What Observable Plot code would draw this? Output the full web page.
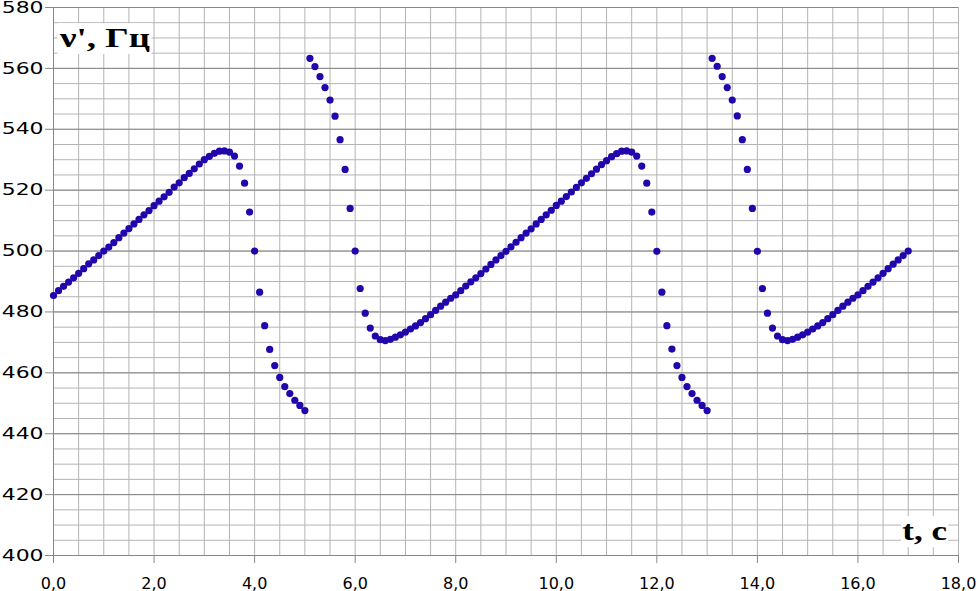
<!DOCTYPE html>
<html>
<head>
<meta charset="utf-8">
<script src="https://cdn.jsdelivr.net/npm/d3@7"></script>
<script src="https://cdn.jsdelivr.net/npm/@observablehq/plot@0.6"></script>
<style>
  html, body { margin: 0; padding: 0; background: #fff; }
  #chart svg { display: block; }
  g[aria-label="x-axis tick"], g[aria-label="y-axis tick"], .tick line { stroke: #868686; }
</style>
</head>
<body>
<div id="chart"></div>
<script>
// time, s
const t = [
  0.0, 0.1, 0.2, 0.3, 0.4, 0.5, 0.6, 0.7, 0.8, 0.9,
  1.0, 1.1, 1.2, 1.3, 1.4, 1.5, 1.6, 1.7, 1.8, 1.9,
  2.0, 2.1, 2.2, 2.3, 2.4, 2.5, 2.6, 2.7, 2.8, 2.9,
  3.0, 3.1, 3.2, 3.3, 3.4, 3.5, 3.6, 3.7, 3.8, 3.9,
  4.0, 4.1, 4.2, 4.3, 4.4, 4.5, 4.6, 4.7, 4.8, 4.9,
  5.0, 5.1, 5.2, 5.3, 5.4, 5.5, 5.6, 5.7, 5.8, 5.9,
  6.0, 6.1, 6.2, 6.3, 6.4, 6.5, 6.6, 6.7, 6.8, 6.9,
  7.0, 7.1, 7.2, 7.3, 7.4, 7.5, 7.6, 7.7, 7.8, 7.9,
  8.0, 8.1, 8.2, 8.3, 8.4, 8.5, 8.6, 8.7, 8.8, 8.9,
  9.0, 9.1, 9.2, 9.3, 9.4, 9.5, 9.6, 9.7, 9.8, 9.9,
  10.0, 10.1, 10.2, 10.3, 10.4, 10.5, 10.6, 10.7, 10.8, 10.9,
  11.0, 11.1, 11.2, 11.3, 11.4, 11.5, 11.6, 11.7, 11.8, 11.9,
  12.0, 12.1, 12.2, 12.3, 12.4, 12.5, 12.6, 12.7, 12.8, 12.9,
  13.0, 13.1, 13.2, 13.3, 13.4, 13.5, 13.6, 13.7, 13.8, 13.9,
  14.0, 14.1, 14.2, 14.3, 14.4, 14.5, 14.6, 14.7, 14.8, 14.9,
  15.0, 15.1, 15.2, 15.3, 15.4, 15.5, 15.6, 15.7, 15.8, 15.9,
  16.0, 16.1, 16.2, 16.3, 16.4, 16.5, 16.6, 16.7, 16.8, 16.9,
  17.0
];

// frequency nu', Hz
const nu = [
  485.4, 487.0, 488.4, 489.8, 491.2, 492.7, 494.2, 495.8, 497.1, 498.5,
  500.0, 501.3, 502.8, 504.4, 505.9, 507.4, 508.9, 510.4, 511.9, 513.3,
  514.9, 516.4, 517.8, 519.3, 521.0, 522.4, 524.1, 525.5, 527.0, 528.6,
  530.0, 531.1, 532.1, 532.8, 532.9, 532.5, 531.2, 527.9, 522.3, 512.8,
  500.0, 486.5, 475.5, 467.7, 462.4, 458.5, 455.5, 453.2, 451.0, 449.3,
  447.6, 563.3, 560.6, 557.3, 553.7, 549.6, 544.3, 536.6, 526.8, 514.0,
  500.0, 487.7, 479.6, 474.7, 472.1, 470.9, 470.6, 471.0, 471.7, 472.5,
  473.4, 474.4, 475.4, 476.5, 477.8, 479.1, 480.5, 481.9, 483.2, 484.5,
  485.6, 487.0, 488.5, 489.9, 491.2, 492.6, 494.1, 495.6, 497.1, 498.5,
  499.9, 501.4, 502.9, 504.4, 505.9, 507.3, 508.9, 510.4, 511.9, 513.4,
  515.0, 516.4, 517.9, 519.4, 520.9, 522.4, 523.9, 525.4, 526.9, 528.4,
  529.7, 531.0, 532.0, 532.8, 532.9, 532.5, 531.2, 527.9, 522.3, 512.8,
  499.9, 486.5, 475.5, 467.8, 462.4, 458.5, 455.5, 453.2, 451.0, 449.3,
  447.6, 563.3, 560.7, 557.3, 553.7, 549.6, 544.4, 536.6, 526.8, 514.0,
  499.9, 487.7, 479.6, 474.7, 472.1, 470.9, 470.6, 471.0, 471.7, 472.5,
  473.4, 474.4, 475.4, 476.5, 477.8, 479.1, 480.5, 481.9, 483.2, 484.5,
  485.6, 487.0, 488.4, 489.8, 491.2, 492.7, 494.2, 495.7, 497.1, 498.5,
  500.0
];

const xTicks = [0, 2, 4, 6, 8, 10, 12, 14, 16, 18];
const yTicks = [400, 420, 440, 460, 480, 500, 520, 540, 560, 580];
const xGrid = d3.range(0, 18.01, 0.5);
const yGrid = d3.range(400, 581, 5);

const data = t.map((d, i) => ({t: d, nu: nu[i]}));

let chart = Plot.plot({
  width: 978,
  height: 591,
  marginLeft: 53,
  marginRight: 20,
  marginTop: 7,
  marginBottom: 36,
  style: {fontFamily: "DejaVu Sans", fontSize: "16px", color: "#000", background: "#fff"},
  x: {
    domain: [0, 18],
    ticks: xTicks,
    tickSize: 8,
    tickPadding: 14,
    tickFormat: (d) => d.toFixed(1).replace(".", ","),
    label: null,
  },
  y: {
    domain: [400, 580],
    ticks: yTicks,
    tickSize: 8,
    tickPadding: 2,
    label: null,
  },
  marks: [
    Plot.ruleX(xGrid, {stroke: "#b4b4b4"}),
    Plot.ruleY(yGrid, {stroke: "#b4b4b4"}),
    Plot.ruleY(yTicks, {stroke: "#868686"}),
    Plot.ruleX([0], {stroke: "#868686"}),
    Plot.dot(data, {x: "t", y: "nu", r: 3.6, fill: "#2306ab"}),
  ],
});
d3.select("#chart").append(() => chart);

const svg = d3.select(chart);

// Excel stretches the y labels sideways
svg.selectAll('g[aria-label="y-axis tick label"] text, g[aria-label="y-axis"] text').each(function () {
  const x = +this.getAttribute("x") || 0;
  const tr = this.getAttribute("transform") || "";
  this.setAttribute("transform", `${tr} translate(${x},0) scale(1.37,1) translate(${-x},0)`);
});

function addLabel(str, x, y, anchor, s) {
  const g = svg.append("g").attr("transform", `translate(${x},${y}) scale(${s},1)`);
  const rect = g.append("rect").attr("fill", "white");
  const txt = g.append("text")
    .attr("text-anchor", anchor)
    .attr("font-family", "'Liberation Serif', 'Times New Roman', serif")
    .attr("font-weight", "bold")
    .attr("font-size", 28)
    .attr("fill", "#000")
    .text(str);
  const b = txt.node().getBBox();
  rect.attr("x", b.x - 1).attr("y", b.y + 1).attr("width", b.width + 2).attr("height", b.height);
}

addLabel("ν', Гц", 60, 47, "start", 1.32);
addLabel("t, с", 947, 540, "end", 1.25);
</script>
</body>
</html>
